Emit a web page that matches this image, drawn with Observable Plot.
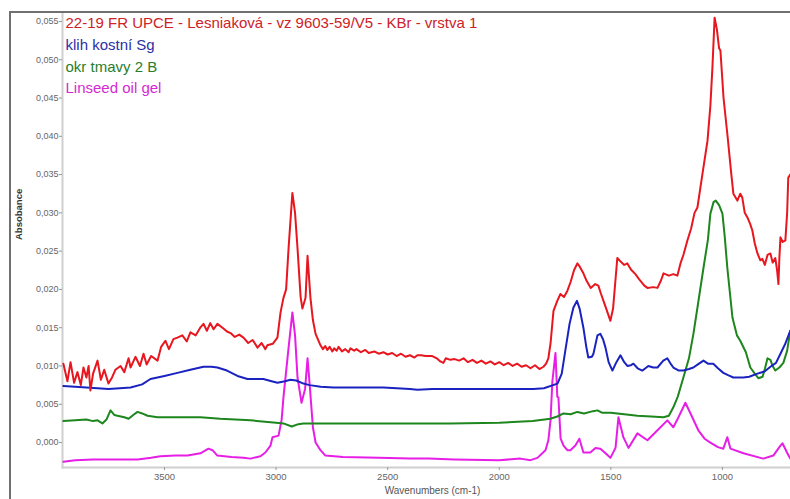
<!DOCTYPE html>
<html><head><meta charset="utf-8">
<script src="https://cdn.jsdelivr.net/npm/d3@7"></script>
<script src="https://cdn.jsdelivr.net/npm/@observablehq/plot@0.6"></script>
<style>
body{margin:0;background:#fff;}
#wrap{position:relative;width:790px;height:499px;overflow:hidden;background:#fff;}
#box{position:absolute;left:9px;top:11px;width:800px;height:500px;border-left:2px solid #707070;border-top:2px solid #707070;pointer-events:none;}
svg{display:block;}
</style>
</head><body><div id="wrap"><div id="box"></div></div>
<script>
// Sample spectrum (red)
const redWn = [3953,3935,3921,3905,3890,3875,3863,3850,3840,3832,3820,3800,3785,3770,3751,3735,3720,3697,3680,3661,3652,3630,3610,3594,3580,3560,3531,3515,3496,3480,3460,3442,3420,3400,3384,3360,3340,3325,3310,3295,3280,3263,3240,3220,3204,3185,3165,3146,3125,3105,3083,3065,3048,3039,3015,2994,2980,2967,2955,2944,2927,2915,2904,2890,2882,2868,2859,2846,2835,2823,2801,2790,2780,2770,2760,2748,2740,2728,2720,2705,2690,2675,2667,2650,2640,2620,2600,2585,2560,2540,2519,2500,2480,2460,2440,2420,2400,2380,2367,2350,2330,2300,2280,2264,2250,2240,2219,2200,2180,2160,2140,2120,2100,2080,2060,2040,2020,2000,1980,1960,1940,1920,1900,1880,1860,1840,1820,1802,1790,1780,1770,1757,1740,1726,1710,1695,1680,1665,1650,1640,1623,1610,1590,1570,1556,1545,1533,1515,1502,1490,1471,1455,1440,1426,1410,1390,1370,1350,1336,1310,1291,1275,1264,1240,1220,1202,1188,1175,1157,1140,1125,1112,1090,1067,1054,1045,1035,1025,1015,1009,995,978,960,951,933,920,911,900,888,875,866,855,843,830,821,810,798,785,775,763,755,749,745,740,730,718,710,705,696];
const redAbs = [0.0103,0.0080,0.0105,0.0078,0.0092,0.0075,0.0098,0.0085,0.0100,0.0068,0.0090,0.0107,0.0082,0.0095,0.0077,0.0085,0.0095,0.0100,0.0092,0.0110,0.0098,0.0112,0.0100,0.0116,0.0102,0.0113,0.0107,0.0125,0.0133,0.0122,0.0135,0.0137,0.0140,0.0132,0.0144,0.0140,0.0150,0.0155,0.0146,0.0156,0.0148,0.0155,0.0150,0.0145,0.0143,0.0138,0.0141,0.0137,0.0130,0.0134,0.0124,0.0130,0.0122,0.0127,0.0129,0.0137,0.0170,0.0189,0.0200,0.0254,0.0326,0.0300,0.0254,0.0190,0.0175,0.0189,0.0244,0.0189,0.0160,0.0142,0.0127,0.0122,0.0126,0.0121,0.0125,0.0119,0.0123,0.0120,0.0125,0.0119,0.0122,0.0118,0.0123,0.0120,0.0122,0.0118,0.0121,0.0117,0.0119,0.0116,0.0118,0.0115,0.0117,0.0113,0.0116,0.0112,0.0114,0.0111,0.0114,0.0114,0.0113,0.0113,0.0110,0.0106,0.0104,0.0110,0.0108,0.0109,0.0107,0.0110,0.0105,0.0108,0.0104,0.0107,0.0103,0.0106,0.0102,0.0105,0.0101,0.0104,0.0100,0.0103,0.0099,0.0101,0.0097,0.0101,0.0096,0.0099,0.0103,0.0110,0.0130,0.0172,0.0185,0.0194,0.0190,0.0198,0.0210,0.0225,0.0234,0.0230,0.0221,0.0212,0.0202,0.0207,0.0205,0.0195,0.0185,0.0170,0.0159,0.0175,0.0241,0.0236,0.0232,0.0234,0.0226,0.0220,0.0212,0.0205,0.0202,0.0203,0.0202,0.0212,0.0221,0.0218,0.0220,0.0218,0.0234,0.0245,0.0264,0.0280,0.0300,0.0307,0.0350,0.0394,0.0440,0.0489,0.0555,0.0540,0.0515,0.0512,0.0450,0.0403,0.0350,0.0325,0.0316,0.0325,0.0320,0.0300,0.0294,0.0285,0.0277,0.0260,0.0247,0.0238,0.0240,0.0232,0.0245,0.0247,0.0235,0.0241,0.0225,0.0207,0.0240,0.0268,0.0262,0.0264,0.0300,0.0346,0.0350];

// klih kostní Sg (blue)
const blueWn = [3953,3900,3850,3800,3751,3700,3652,3600,3563,3500,3442,3384,3325,3290,3263,3220,3173,3128,3083,3057,3020,2994,2960,2936,2910,2877,2850,2800,2743,2650,2519,2400,2367,2300,2219,2100,2000,1900,1847,1800,1739,1720,1704,1685,1668,1652,1640,1623,1610,1601,1585,1578,1560,1547,1535,1524,1510,1493,1475,1457,1440,1426,1410,1399,1380,1359,1345,1332,1310,1291,1265,1247,1230,1220,1195,1175,1150,1130,1110,1085,1065,1041,1020,996,975,951,920,906,880,843,810,785,760,740,720,696];
const blueAbs = [0.0074,0.0073,0.0072,0.0071,0.0070,0.0071,0.0072,0.0076,0.0083,0.0087,0.0091,0.0095,0.0099,0.0099,0.0098,0.0094,0.0087,0.0083,0.0083,0.0083,0.0080,0.0078,0.0080,0.0082,0.0081,0.0077,0.0075,0.0073,0.0072,0.0072,0.0072,0.0070,0.0069,0.0070,0.0070,0.0070,0.0070,0.0070,0.0070,0.0071,0.0077,0.0090,0.0120,0.0155,0.0176,0.0185,0.0175,0.0150,0.0125,0.0111,0.0112,0.0116,0.0140,0.0142,0.0135,0.0124,0.0105,0.0094,0.0105,0.0114,0.0105,0.0100,0.0101,0.0103,0.0097,0.0094,0.0097,0.0100,0.0098,0.0098,0.0107,0.0110,0.0102,0.0098,0.0094,0.0094,0.0096,0.0098,0.0102,0.0107,0.0103,0.0103,0.0097,0.0091,0.0088,0.0085,0.0085,0.0085,0.0086,0.0090,0.0093,0.0099,0.0104,0.0116,0.0128,0.0146];

// okr tmavy 2 B (green)
const greenWn = [3953,3900,3850,3820,3800,3778,3760,3742,3725,3711,3680,3661,3640,3621,3600,3576,3531,3450,3339,3250,3115,3000,2967,2930,2900,2877,2800,2667,2500,2219,2000,1850,1771,1740,1712,1680,1650,1620,1580,1560,1540,1500,1471,1440,1381,1320,1264,1240,1220,1200,1175,1150,1130,1110,1085,1065,1054,1040,1030,1015,1000,990,978,955,935,920,895,875,855,839,820,810,798,785,775,763,745,727,710,696];
const greenAbs = [0.0028,0.0029,0.0030,0.0028,0.0029,0.0025,0.0030,0.0042,0.0036,0.0035,0.0033,0.0031,0.0036,0.0040,0.0038,0.0035,0.0033,0.0033,0.0033,0.0031,0.0029,0.0026,0.0025,0.0021,0.0024,0.0025,0.0025,0.0025,0.0025,0.0025,0.0026,0.0028,0.0031,0.0034,0.0038,0.0037,0.0040,0.0038,0.0041,0.0042,0.0039,0.0039,0.0038,0.0037,0.0035,0.0034,0.0033,0.0035,0.0046,0.0060,0.0085,0.0110,0.0142,0.0180,0.0228,0.0265,0.0299,0.0314,0.0316,0.0310,0.0299,0.0270,0.0228,0.0163,0.0140,0.0133,0.0118,0.0098,0.0090,0.0084,0.0086,0.0096,0.0110,0.0108,0.0100,0.0094,0.0098,0.0104,0.0120,0.0146];

// Linseed oil gel (magenta)
const magWn = [3953,3900,3820,3750,3620,3560,3518,3450,3397,3339,3320,3303,3285,3263,3200,3146,3115,3070,3048,3025,3016,2989,2975,2967,2944,2927,2915,2904,2886,2870,2859,2848,2835,2823,2801,2779,2700,2541,2400,2317,2200,2000,1905,1860,1829,1793,1780,1770,1762,1748,1740,1735,1725,1712,1695,1681,1659,1641,1623,1592,1569,1547,1520,1502,1479,1466,1444,1421,1381,1336,1291,1247,1220,1202,1166,1143,1108,1080,1054,1020,996,978,964,906,817,772,740,731,709,696];
const magAbs = [-0.0025,-0.0023,-0.0022,-0.0022,-0.0022,-0.0020,-0.0018,-0.0017,-0.0017,-0.0014,-0.0011,-0.0008,-0.0010,-0.0017,-0.0019,-0.0020,-0.0021,-0.0018,-0.0013,-0.0004,0.0007,0.0009,0.0030,0.0059,0.0124,0.0170,0.0140,0.0085,0.0052,0.0070,0.0110,0.0070,0.0020,0.0000,-0.0010,-0.0017,-0.0019,-0.0020,-0.0021,-0.0021,-0.0022,-0.0023,-0.0021,-0.0023,-0.0020,-0.0010,0.0003,0.0030,0.0080,0.0117,0.0060,0.0059,0.0005,-0.0004,-0.0010,-0.0010,-0.0004,0.0005,-0.0013,-0.0013,-0.0007,-0.0008,-0.0015,-0.0020,-0.0007,0.0033,0.0007,-0.0007,0.0012,0.0003,0.0016,0.0029,0.0020,0.0030,0.0052,0.0038,0.0016,0.0005,0.0000,-0.0006,-0.0008,0.0007,-0.0008,-0.0014,-0.0021,-0.0017,-0.0004,-0.0001,-0.0014,-0.0021];

const legendLabels = ["22-19 FR UPCE - Lesniaková - vz 9603-59/V5 - KBr - vrstva 1", "klih kostní Sg", "okr tmavy 2 B", "Linseed oil gel"];
const lineColors = ["#e8161e", "#1a22c0", "#1d861d", "#e61ee6"];
const textColors = ["#cc2228", "#2a2fa6", "#2a7d2a", "#d42ad4"];
const xTicks = [3500, 3000, 2500, 2000, 1500, 1000];
const yTicks = [0, 0.005, 0.010, 0.015, 0.020, 0.025, 0.030, 0.035, 0.040, 0.045, 0.050, 0.055];

const series = [[redWn, redAbs], [blueWn, blueAbs], [greenWn, greenAbs], [magWn, magAbs]];
const font = "'Liberation Sans', Arial, sans-serif";

const lineMarks = series.map(([wn, ab], i) =>
  Plot.line(wn.map((w, j) => ({wn: w, a: ab[j]})), {x: "wn", y: "a", stroke: lineColors[i], strokeWidth: 2, clip: true})
).reverse();

const legendMarks = legendLabels.map((t, i) =>
  Plot.text([t], {frameAnchor: "top-left", dx: 3, dy: 11 + i * 21.7, text: d => d, fill: textColors[i], fontSize: 15, textAnchor: "start", lineAnchor: "middle"})
);

const chart = Plot.plot({
  width: 790,
  height: 499,
  marginTop: 12,
  marginBottom: 32,
  marginLeft: 62,
  marginRight: 0,
  style: {fontFamily: font, background: "#fff"},
  x: {domain: [3957, 695]},
  y: {domain: [-0.00326, 0.05617]},
  marks: [
    Plot.frame({anchor: "left", stroke: "#cfcfcf", strokeWidth: 2}),
    Plot.frame({anchor: "bottom", stroke: "#cfcfcf", strokeWidth: 2}),
    Plot.axisX({ticks: xTicks, tickSize: 3, tickPadding: 3, fontSize: 9.5, stroke: "#999", fill: "#666", label: null, tickFormat: d => String(d)}),
    Plot.axisY({ticks: yTicks, tickSize: 3, tickPadding: 1, fontSize: 9, stroke: "#999", fill: "#666", label: null, tickFormat: d => d3.format(".3f")(d).replace(".", ",")}),
    ...lineMarks,
    ...legendMarks,
    Plot.text(["Absobance"], {frameAnchor: "left", dx: -44, rotate: -90, text: d => d, fontSize: 9.5, fontWeight: "bold", fill: "#333"}),
    Plot.text(["Wavenumbers (cm-1)"], {frameAnchor: "bottom", dx: 6, dy: 26, text: d => d, fontSize: 10, fill: "#555"})
  ]
});
document.getElementById("wrap").prepend(chart);
</script>
</body></html>
